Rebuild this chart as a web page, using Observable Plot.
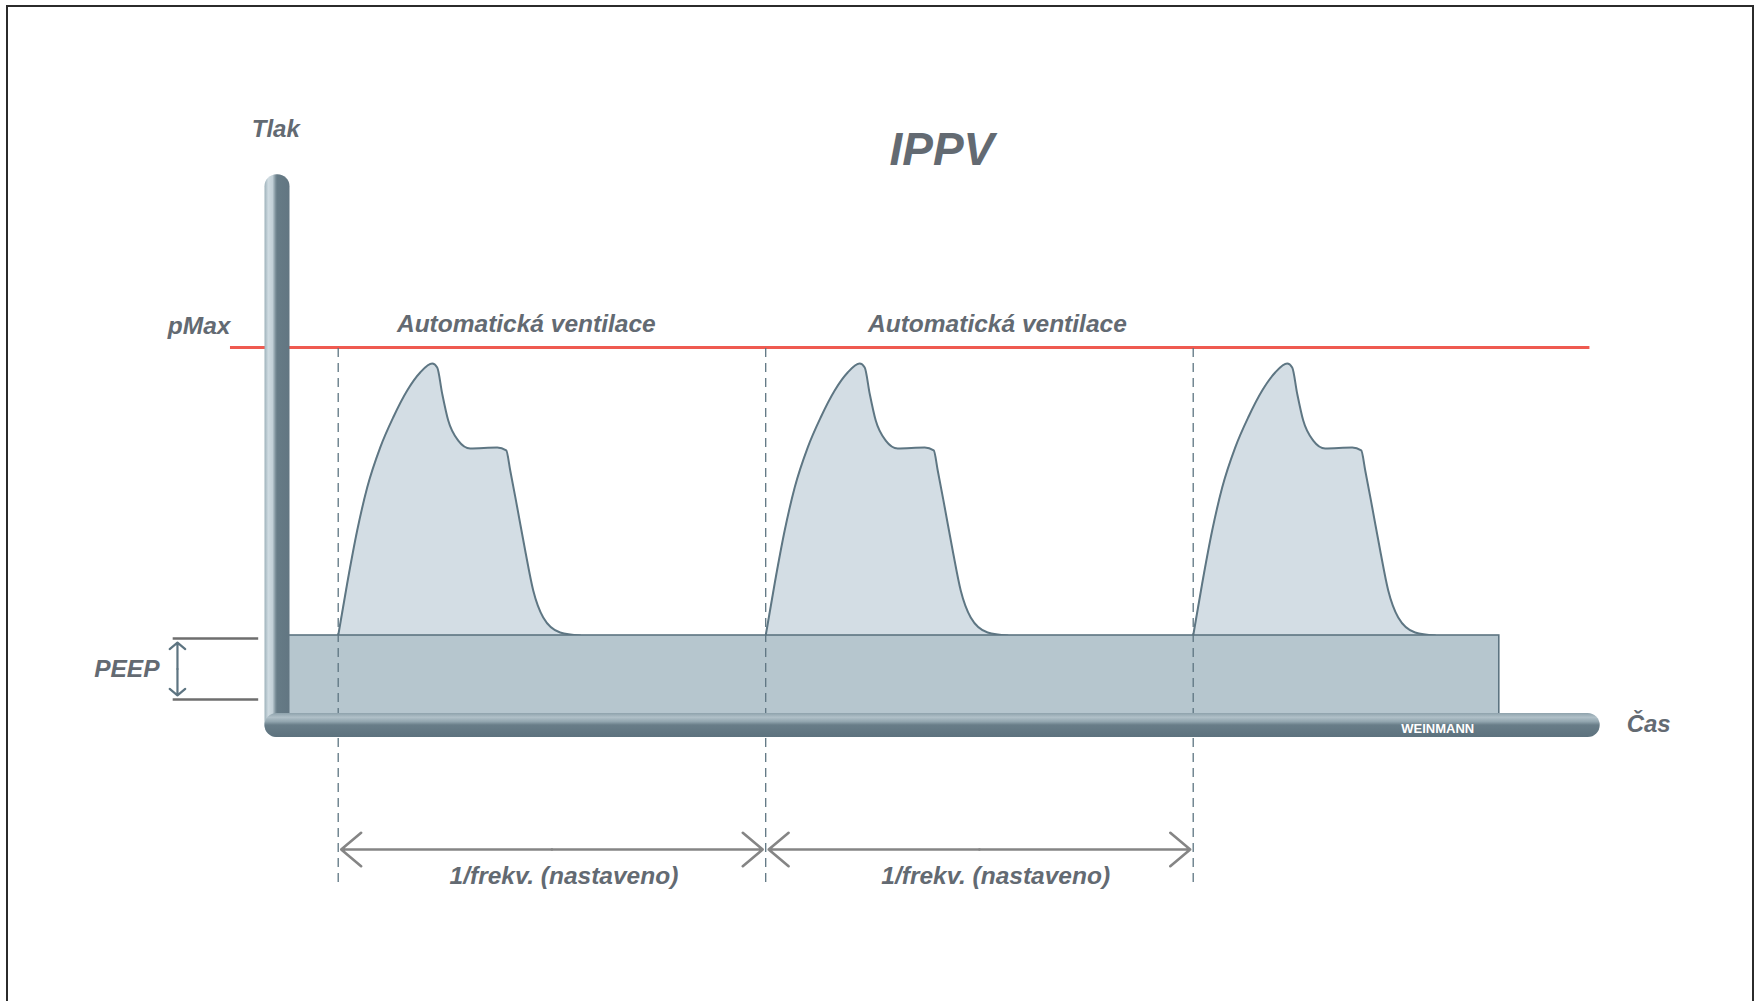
<!DOCTYPE html>
<html><head><meta charset="utf-8">
<script src="https://cdn.jsdelivr.net/npm/d3@7"></script>
<script src="https://cdn.jsdelivr.net/npm/@observablehq/plot@0.6"></script>
<style>
html,body{margin:0;padding:0;background:#fff;width:1761px;height:1001px;overflow:hidden;}
#chart{position:absolute;left:0;top:0;}
#frame{position:absolute;left:6px;top:5px;width:1748px;height:1100px;border:2px solid #2b2b2b;pointer-events:none;box-sizing:border-box;}
</style></head><body>
<div id="chart"></div><div id="frame"></div>
<script>
// ---- data (time in s, pressure in arbitrary units) ----
const breathOnsets = [0.71, 5.71, 10.71];
const breathDt = [0, 0.105, 0.222, 0.339, 0.491, 0.643, 0.807, 0.959, 1.099, 1.158, 1.216, 1.287, 1.404, 1.544, 1.860, 1.965, 2.012, 2.094, 2.187, 2.281, 2.398, 2.596, 2.830];
const breathP  = [5.0, 7.89, 10.83, 13.22, 15.44, 17.11, 18.61, 19.61, 20.11, 19.89, 18.44, 16.94, 15.83, 15.39, 15.44, 15.28, 14.17, 12.11, 9.72, 7.5, 6.0, 5.17, 5.0];
const PEEP = 5;
const P_MAX = 21;
const peepEnd = 14.29;
const timeAxisEnd = 15.33;
const pressureAxisTop = 30.6;
const pMaxSpan = [-0.55, 15.35];
const dashBottom = -8.72;
const periodArrowLevel = -6.89;
const peepMarkLevels = [4.83, 1.45];
const peepMarkSpan = [-1.22, -0.22];
const peepArrowT = -1.17;

const middleLabels = [
  {text: "Tlak", t: -0.02, p: 33.1}
];
const endLabels = [
  {text: "pMax", t: -0.55, p: 22.18},
  {text: "PEEP", t: -1.38, p: 3.11}
];
const startLabels = [
  {text: "Čas", t: 15.78, p: 0.06}
];
const phaseLabels = [
  {text: "Automatická ventilace", t: 2.91, p: 22.3},
  {text: "Automatická ventilace", t: 8.42, p: 22.3}
];
const periodLabels = [
  {text: "1/frekv. (nastaveno)", t: 3.35, p: -8.39},
  {text: "1/frekv. (nastaveno)", t: 8.40, p: -8.39}
];
const titleLabel = [{text: "IPPV", t: 7.77, p: 31.98}];
const logoLabel = [{text: "WEINMANN", t: 13.57, p: -0.17}];

// ---- derived tables ----
const breathData = breathOnsets.flatMap((t0, b) =>
  breathDt.map((dt, i) => ({breath: b, t: t0 + dt, p: breathP[i]})));
const periods = breathOnsets.slice(0, -1).map((t0, i) => ({a: t0, b: breathOnsets[i + 1], m: (t0 + breathOnsets[i + 1]) / 2}));
const periodArrows = periods.flatMap(d => [{x1: d.m, x2: d.a}, {x1: d.m, x2: d.b}]);
const peepMid = (peepMarkLevels[0] + peepMarkLevels[1]) / 2;
const peepArrows = [{y1: peepMid, y2: peepMarkLevels[0]}, {y1: peepMid, y2: peepMarkLevels[1]}];

const font = "'Liberation Sans', Arial, Helvetica, sans-serif";
const textColor = "#636a72";
const labelStyle = {x: "t", y: "p", text: "text", fontFamily: font, fontSize: 24, fontWeight: "bold", fontStyle: "italic", fill: textColor};

function defs() {
  const ns = "http://www.w3.org/2000/svg";
  const g = document.createElementNS(ns, "defs");
  g.innerHTML = `
  <linearGradient id="gradV" x1="0" x2="1" y1="0" y2="0">
    <stop offset="0" stop-color="#9db1ba"/>
    <stop offset="0.15" stop-color="#cfdbe1"/>
    <stop offset="0.32" stop-color="#c2d0d7"/>
    <stop offset="0.44" stop-color="#7d919b"/>
    <stop offset="0.5" stop-color="#667b86"/>
    <stop offset="1" stop-color="#627682"/>
  </linearGradient>
  <linearGradient id="gradH" x1="0" x2="0" y1="0" y2="1">
    <stop offset="0" stop-color="#8ea2ac"/>
    <stop offset="0.18" stop-color="#b0c0c8"/>
    <stop offset="0.36" stop-color="#91a5ae"/>
    <stop offset="0.5" stop-color="#687d88"/>
    <stop offset="1" stop-color="#5d727e"/>
  </linearGradient>`;
  return g;
}

const plot = Plot.plot({
  width: 1761,
  height: 1001,
  margin: 0,
  axis: null,
  x: {domain: [0, 15], range: [277, 277 + 15 * 85.5]},
  y: {domain: [0, 30], range: [725, 185]},
  style: {background: "transparent", overflow: "visible"},
  marks: [
    defs,
    Plot.ruleY([P_MAX], {x1: pMaxSpan[0], x2: pMaxSpan[1], stroke: "#ef5a50", strokeWidth: 3}),
    Plot.areaY(breathData, {x: "t", y1: PEEP, y2: "p", z: "breath", fill: "#d3dde4", curve: "monotone-x"}),
    Plot.line(breathData, {x: "t", y: "p", z: "breath", stroke: "#5e7683", strokeWidth: 2, curve: "monotone-x"}),
    Plot.rect([{x1: 0, x2: peepEnd, y1: 0, y2: PEEP}], {x1: "x1", x2: "x2", y1: "y1", y2: "y2", fill: "#b6c6ce", stroke: "#5d7481", strokeWidth: 1.6}),
    Plot.ruleX(breathOnsets, {x: d => d, y1: dashBottom, y2: P_MAX, stroke: "#5d7481", strokeWidth: 1.3, strokeDasharray: "9,6"}),
    Plot.rect([{x1: 0, x2: 0, y1: 0, y2: pressureAxisTop}], {x1: "x1", x2: "x2", y1: "y1", y2: "y2",
      insetLeft: -12.5, insetRight: -12.5, insetBottom: -12, rx: 12, fill: "url(#gradV)"}),
    Plot.rect([{x1: 0, x2: timeAxisEnd, y1: 0, y2: 0}], {x1: "x1", x2: "x2", y1: "y1", y2: "y2",
      insetTop: -12, insetBottom: -12, insetLeft: -12.5, insetRight: -12, rx: 12, fill: "url(#gradH)"}),
    Plot.ruleY(peepMarkLevels, {x1: peepMarkSpan[0], x2: peepMarkSpan[1], stroke: "#6e6e6e", strokeWidth: 2.5}),
    Plot.arrow(peepArrows, {x1: peepArrowT, x2: peepArrowT, y1: "y1", y2: "y2", bend: 0, stroke: "#5d7481", strokeWidth: 2.2, headLength: 15, headAngle: 100, insetEnd: 4}),
    Plot.arrow(periodArrows, {x1: "x1", x2: "x2", y1: periodArrowLevel, y2: periodArrowLevel, bend: 0, stroke: "#858585", strokeWidth: 2.6, headLength: 15, headAngle: 80, insetEnd: 3}),
    Plot.text(titleLabel, {...labelStyle, fontSize: 46}),
    Plot.text(middleLabels, labelStyle),
    Plot.text(endLabels, {...labelStyle, textAnchor: "end", fontSize: 24.5}),
    Plot.text(startLabels, {...labelStyle, textAnchor: "start"}),
    Plot.text(phaseLabels, {...labelStyle, fontSize: 24.5}),
    Plot.text(periodLabels, {...labelStyle, fontSize: 24.5}),
    Plot.text(logoLabel, {x: "t", y: "p", text: "text", fontFamily: font, fontSize: 13, fontWeight: "bold", fill: "#ffffff"})
  ]
});
document.getElementById("chart").appendChild(plot);
</script></body></html>
